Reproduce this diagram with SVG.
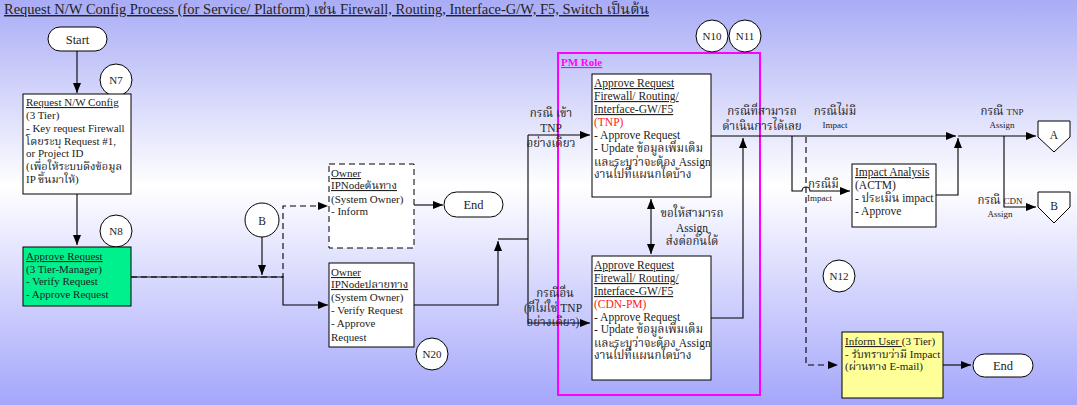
<svg xmlns="http://www.w3.org/2000/svg" width="1077" height="405" viewBox="0 0 1077 405">
<defs>
<linearGradient id="bg" x1="0" y1="0" x2="0" y2="1">
<stop offset="0" stop-color="#a9acf6"/>
<stop offset="0.46" stop-color="#ffffff"/>
<stop offset="1" stop-color="#a4a6fb"/>
</linearGradient>
<marker id="arr" viewBox="0 0 10 8" refX="10" refY="4" markerWidth="10" markerHeight="8" markerUnits="userSpaceOnUse" orient="auto-start-reverse">
<path d="M0,0 L10,4 L0,8 z" fill="#000"/>
</marker>
<style>
text{font-family:"Liberation Serif","Noto Serif Thai","Noto Sans Thai","DejaVu Serif",serif;fill:#222;font-size:11px}
.t{font-size:11.5px}
.u{text-decoration:underline}
.s{font-size:9px}
.c{text-anchor:middle}
.red{fill:#ff2020}
.box{fill:#fff;stroke:#000;stroke-width:1}
.circ{fill:#fff;stroke:#000;stroke-width:1}
.ln{fill:none;stroke:#000;stroke-width:1.1}
.dl{fill:none;stroke:#000;stroke-width:1.1;stroke-dasharray:6 4}
</style>
</defs>
<rect width="1077" height="405" fill="url(#bg)"/>
<text x="4" y="14" class="u" style="font-size:14.5px">Request N/W Config Process (for Service/ Platform) เช่น Firewall, Routing, Interface-G/W, F5, Switch เป็นต้น</text>

<g id="pmrole">
<rect x="558" y="53" width="202" height="342" fill="none" stroke="#ff00ff" stroke-width="2"/>
<text x="561" y="66" class="u" style="fill:#ff00ff;font-weight:bold;font-size:11px">PM Role</text>
</g>

<g id="connectors">
<path class="ln" d="M77,51 V93" marker-end="url(#arr)"/>
<path class="ln" d="M77,194 V245" marker-end="url(#arr)"/>
<path class="ln" d="M131,277 H283 V305 H328" stroke="#333" stroke-width="1.6" marker-end="url(#arr)"/>
<path class="dl" d="M131,277 H283 V206 H328" marker-end="url(#arr)"/>
<path class="ln" d="M262,237 V275" marker-end="url(#arr)"/>
<path class="ln" d="M414,205 H443" marker-end="url(#arr)"/>
<path class="ln" d="M414,305 H498 V241" marker-end="url(#arr)"/>
<path class="ln" d="M498,239 H528"/>
<path class="ln" d="M528,135 V323"/>
<path class="ln" d="M528,135 H590" stroke-width="1.5" marker-end="url(#arr)"/>
<path class="ln" d="M528,323 H590" marker-end="url(#arr)"/>
<path class="ln" d="M651,199 V254" marker-start="url(#arr)" marker-end="url(#arr)"/>
<path class="ln" d="M711,136 H956" stroke="#333" stroke-width="1.8" marker-end="url(#arr)"/>
<path class="ln" d="M711,318 H743 V138" marker-end="url(#arr)"/>
<path class="ln" d="M792,136 V191 H802 A4,4 0 0 1 810,191 H850" marker-end="url(#arr)"/>
<path class="dl" d="M806,137 V365 H838" marker-end="url(#arr)"/>
<path class="ln" d="M936,195 H958 V138" marker-end="url(#arr)"/>
<path class="ln" d="M958,136 H1036" marker-end="url(#arr)"/>
<path class="ln" d="M1004,136 V207 H1036" marker-end="url(#arr)"/>
<path class="ln" d="M943,365 H971" marker-end="url(#arr)"/>
</g>

<g id="labels">
<text x="551" y="117" class="c t">กรณี เข้า</text>
<text x="551" y="132" class="c t">TNP</text>
<text x="551" y="147" class="c t">อย่างเดียว</text>
<text x="555" y="297" class="c t">กรณีอื่น</text>
<text x="553" y="312" class="c t">(ที่ไม่ใช่ TNP</text>
<text x="553" y="326" class="c t">อย่างเดียว)</text>
<text x="692" y="217" class="c t">ขอให้สามารถ</text>
<text x="692" y="232" class="c t">Assign</text>
<text x="692" y="245" class="c t">ส่งต่อกันได้</text>
<text x="762" y="115" class="c t">กรณีที่สามารถ</text>
<text x="762" y="130" class="c t">ดำเนินการได้เลย</text>
<text x="835" y="115" class="c t">กรณีไม่มี</text>
<text x="835" y="128" class="c s">Impact</text>
<text x="808" y="188" class="t">กรณีมี</text>
<text x="807" y="201" class="s">Impact</text>
<text x="1002" y="115" class="c t">กรณี <tspan class="s">TNP</tspan></text>
<text x="1002" y="128" class="c s">Assign</text>
<text x="1000" y="204" class="c t">กรณี <tspan class="s">CDN</tspan></text>
<text x="1000" y="217" class="c s">Assign</text>
</g>

<g id="start">
<rect x="48" y="27" width="59" height="24" rx="12" class="box"/>
<text x="77.5" y="43.5" class="c" style="font-size:12.5px">Start</text>
</g>

<g id="n7"><circle cx="116" cy="80" r="16" class="circ"/><text x="116" y="84" class="c">N7</text></g>
<g id="n8"><circle cx="116" cy="231" r="16" class="circ"/><text x="116" y="235" class="c">N8</text></g>
<g id="n10"><circle cx="712" cy="36" r="16" class="circ"/><text x="712" y="40" class="c">N10</text></g>
<g id="n11"><circle cx="745" cy="36" r="16" class="circ"/><text x="745" y="40" class="c">N11</text></g>
<g id="n12"><circle cx="839" cy="276" r="16" class="circ"/><text x="839" y="280" class="c">N12</text></g>
<g id="n20"><circle cx="432" cy="354" r="16" class="circ"/><text x="432" y="358" class="c">N20</text></g>
<g id="b-conn"><circle cx="262" cy="220" r="17" class="circ"/><text x="262" y="224.5" class="c t">B</text></g>

<g id="request">
<rect x="23" y="94" width="108" height="100" class="box"/>
<text x="26" y="106" class="u">Request N/W Config</text>
<text x="26" y="119">(3 Tier)</text>
<text x="26" y="132">- Key request  Firewall</text>
<text x="26" y="145">โดยระบุ Request #1,</text>
<text x="26" y="157">or Project ID</text>
<text x="26" y="170">(เพื่อให้ระบบดึงข้อมูล</text>
<text x="26" y="183">IP ขึ้นมาให้)</text>
</g>

<g id="approve">
<rect x="23" y="247" width="108" height="59" fill="#00f08e" stroke="#000"/>
<text x="26" y="260" class="u">Approve Request</text>
<text x="26" y="273">(3 Tier-Manager)</text>
<text x="26" y="285">- Verify Request</text>
<text x="26" y="298">- Approve Request</text>
</g>

<g id="owner-src">
<rect x="329" y="164" width="85" height="84" fill="#fff" stroke="#000" stroke-dasharray="6 4"/>
<text x="331" y="177" class="u">Owner</text>
<text x="331" y="189" class="u">IPNodeต้นทาง</text>
<text x="331" y="203">(System Owner)</text>
<text x="331" y="215">- Inform</text>
</g>

<g id="end1">
<rect x="444" y="192" width="59" height="25" rx="12.5" class="box"/>
<text x="473.5" y="209" class="c" style="font-size:12.5px">End</text>
</g>

<g id="owner-dst">
<rect x="329" y="263" width="85" height="84" class="box"/>
<text x="331" y="276" class="u">Owner</text>
<text x="331" y="288" class="u">IPNodeปลายทาง</text>
<text x="331" y="301">(System Owner)</text>
<text x="331" y="314">- Verify Request</text>
<text x="331" y="327">- Approve</text>
<text x="331" y="341">Request</text>
</g>

<g id="tnp">
<rect x="592" y="74" width="119" height="123" class="box"/>
<text x="594" y="87" class="u t">Approve Request</text>
<text x="594" y="100" class="u t">Firewall/ Routing/</text>
<text x="594" y="113" class="u t">Interface-GW/F5</text>
<text x="594" y="126" class="red t">(TNP)</text>
<text x="594" y="139" class="t">- Approve Request</text>
<text x="594" y="152" class="t">- Update ข้อมูลเพิ่มเติม</text>
<text x="594" y="166" class="t">และระบุว่าจะต้อง Assign</text>
<text x="594" y="178" class="t">งานไปที่แผนกใดบ้าง</text>
</g>

<g id="cdn">
<rect x="592" y="256" width="119" height="124" class="box"/>
<text x="594" y="269" class="u t">Approve Request</text>
<text x="594" y="282" class="u t">Firewall/ Routing/</text>
<text x="594" y="295" class="u t">Interface-GW/F5</text>
<text x="594" y="308" class="red t">(CDN-PM)</text>
<text x="594" y="321" class="t">- Approve Request</text>
<text x="594" y="333" class="t">- Update ข้อมูลเพิ่มเติม</text>
<text x="594" y="347" class="t">และระบุว่าจะต้อง Assign</text>
<text x="594" y="359" class="t">งานไปที่แผนกใดบ้าง</text>
</g>

<g id="impact">
<rect x="852" y="164" width="84" height="63" class="box"/>
<text x="855" y="176" class="u t">Impact Analysis</text>
<text x="855" y="189" class="t">(ACTM)</text>
<text x="855" y="202" class="t">- ประเมิน impact</text>
<text x="855" y="215" class="t">- Approve</text>
</g>

<g id="conn-a">
<path d="M1038,121 H1070 V137 L1054,152 L1038,137 Z" class="box"/>
<text x="1054" y="139" class="c t">A</text>
</g>
<g id="conn-b">
<path d="M1038,192 H1070 V207 L1054,223 L1038,207 Z" class="box"/>
<text x="1054" y="210" class="c t">B</text>
</g>

<g id="inform">
<rect x="842" y="332" width="101" height="66" fill="#ffff99" stroke="#000"/>
<text x="845" y="345"><tspan class="u">Inform User </tspan>(3 Tier)</text>
<text x="845" y="358">- รับทราบว่ามี Impact</text>
<text x="845" y="370">(ผ่านทาง E-mail)</text>
</g>

<g id="end2">
<rect x="973" y="354" width="60" height="23" rx="11.5" class="box"/>
<text x="1003" y="370" class="c" style="font-size:12.5px">End</text>
</g>
</svg>
